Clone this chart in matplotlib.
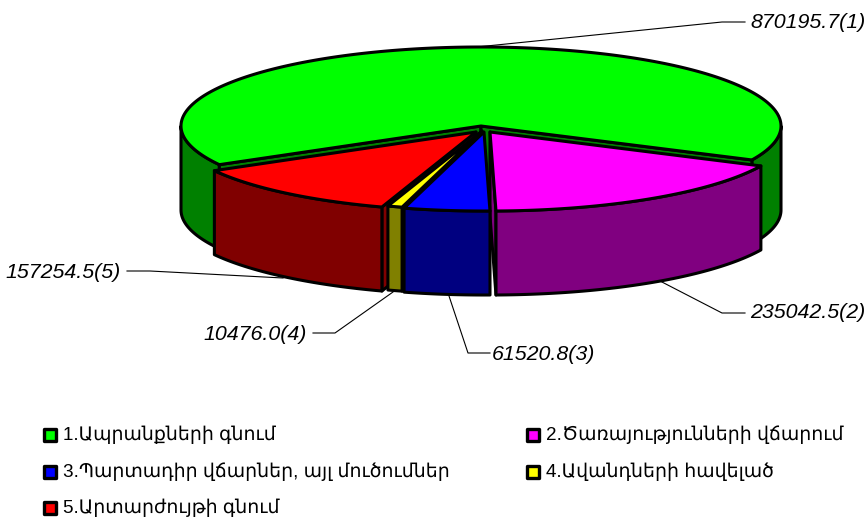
import numpy as np
import matplotlib
matplotlib.use("Agg")
import matplotlib.pyplot as plt
from matplotlib.patches import Polygon, Rectangle

# ---- data ----
values = [870195.7, 235042.5, 61520.8, 10476.0, 157254.5]
legend_labels = [
    "1.Ապրանքների գնում",
    "2.Ծառայությունների վճարում",
    "3.Պարտադիր վճարներ, այլ մուծումներ",
    "4.Ավանդների հավելած",
    "5.Արտարժույթի գնում",
]
top_colors = ["#00ff00", "#ff00ff", "#0000ff", "#ffff00", "#ff0000"]
side_colors = ["#008000", "#800080", "#000080", "#808000", "#800000"]

# ---- geometry (pixels) ----
W, H = 868, 521
RX, RY, DEPTH = 300.0, 79.0, 84.0
START = 209.3
apex = [(481, 126), (490, 132), (484, 132), (482, 131), (476, 132)]
LW = 2.2

fig = plt.figure(figsize=(W / 100, H / 100), dpi=100, facecolor="white")
ax = fig.add_axes([0, 0, 1, 1])
ax.set_xlim(0, W)
ax.set_ylim(H, 0)
ax.axis("off")

total = sum(values)
spans = [v / total * 360 for v in values]
ends = START - np.cumsum(spans)
starts = ends + np.array(spans)


def pt(i, th):
    return (apex[i][0] + RX * np.cos(np.radians(th)),
            apex[i][1] - RY * np.sin(np.radians(th)))


def arc(i, a, b):
    ts = np.linspace(a, b, max(3, int(abs(a - b) * 2)))
    return [pt(i, t) for t in ts]


def poly(points, color, z):
    ax.add_patch(Polygon(points, closed=True, facecolor=color, edgecolor="black",
                         linewidth=LW, joinstyle="round", zorder=z))


def top(i, z):
    poly([apex[i]] + arc(i, starts[i], ends[i]), top_colors[i], z)


def wall(i, z):
    for lo, hi in [(-180, 0), (180, 360)]:
        a, b = min(starts[i], hi), max(ends[i], lo)
        if a > b:
            up = arc(i, a, b)
            down = [(x, y + DEPTH) for x, y in reversed(up)]
            poly(up + down, side_colors[i], z)


def cut(i, th, z):
    p = pt(i, th)
    c = apex[i]
    poly([c, p, (p[0], p[1] + DEPTH), (c[0], c[1] + DEPTH)], side_colors[i], z)


# green slice at the back
wall(0, 1)
cut(0, starts[0], 2)
cut(0, ends[0], 2)
top(0, 3)
# visible cut faces of the front slices, then their walls and tops
cut(4, starts[4], 4)
cut(1, ends[1], 4)
wall(4, 5)
top(4, 6)
wall(1, 5)
top(1, 6)
cut(3, starts[3], 7)
wall(3, 8)
top(3, 8)
wall(2, 10)
top(2, 10)

# ---- leader lines and value labels ----
leaders = [
    [(467, 48), (722, 22), (745, 22)],
    [(660, 281), (722, 313), (745, 313)],
    [(449, 296), (468, 353), (490, 353)],
    [(393, 292), (335, 333), (313, 333)],
    [(283, 278), (150, 271), (127, 271)],
]
label_pos = [(750, 23, "left"), (750, 313, "left"), (492, 354, "left"),
             (307, 334, "right"), (121, 272, "right")]
for i, v in enumerate(values):
    xs, ys = zip(*leaders[i])
    ax.plot(xs, ys, color="black", lw=0.8, zorder=0.5)
    x, y, ha = label_pos[i]
    ax.text(x, y, f"{v:.1f}({i + 1})", ha=ha, va="center", fontsize=15.4,
            style="italic", family="Liberation Sans", color="black")

# ---- legend ----
legend_xy = [(43, 435), (526, 435), (43, 472), (526, 472), (43, 508)]
for i, (x, y) in enumerate(legend_xy):
    ax.add_patch(Rectangle((x + 1, y - 6), 12, 12, facecolor=top_colors[i],
                           edgecolor="black", linewidth=2.4, joinstyle="round"))
    ax.text(x + 20, y, legend_labels[i], ha="left", va="center", fontsize=13.6,
            family=["Liberation Sans", "DejaVu Sans"], color="black")

fig.savefig("out.png", dpi=100, facecolor="white")
